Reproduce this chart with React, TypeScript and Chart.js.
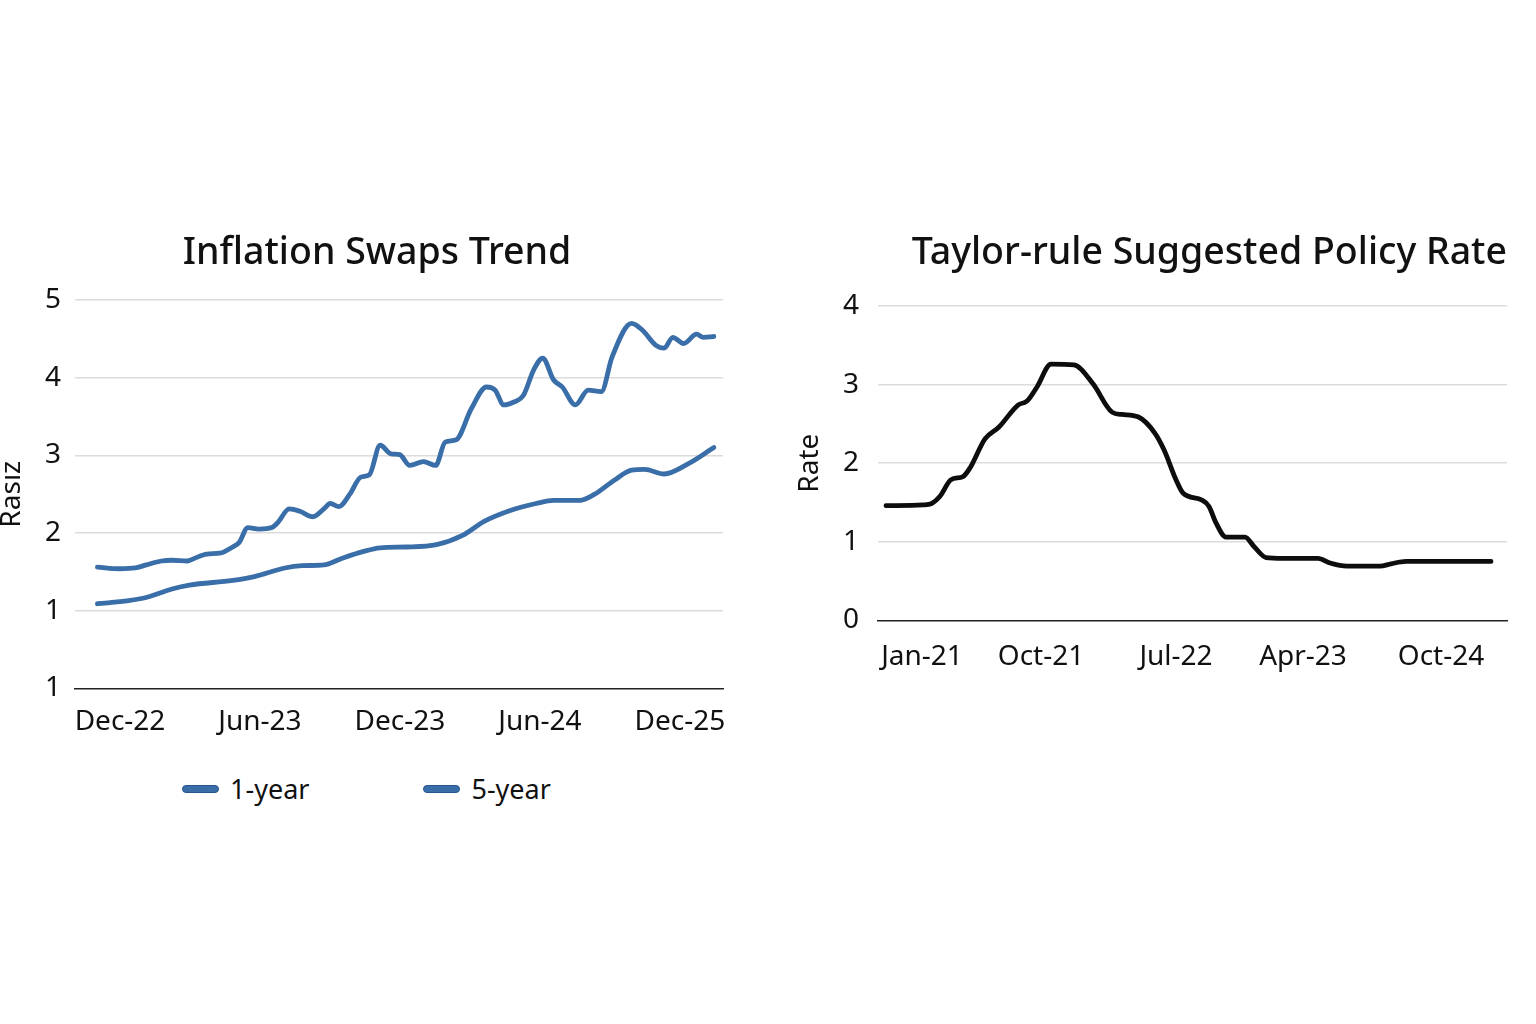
import React, { useEffect, useRef } from "react";
import { Chart, registerables } from "chart.js";

Chart.register(...registerables);

const FONT = '"Noto Sans", "Open Sans", sans-serif';
const INK = "#111111";
const GRID = "#dcdcdc";
const BLUE = "#3a6ea9";

// ---------- Left chart: Inflation Swaps Trend (x = months from Dec-22) ----------
const swapTitle = "Inflation Swaps Trend";
const swapYTitle = "Rasız";
const swapSeriesNames = ["1-year", "5-year"];
const swapTickMonths = [0, 6, 12, 18, 24];
const swapTickLabels = ["Dec-22", "Jun-23", "Dec-23", "Jun-24", "Dec-25"];
const swapYTickLabels = ["1", "1", "2", "3", "4", "5"];

const oneYearMonths = [
  -0.97, 0, 0.65, 1.12, 1.77, 2.23, 2.88, 3.16, 3.72, 4.28, 4.83, 5.11, 5.48, 5.95,
  6.51, 6.78, 7.25, 7.71, 8.27, 8.74, 9.01, 9.39, 9.85, 10.32, 10.69, 11.15, 11.62,
  11.99, 12.42, 13.01, 13.53, 13.94, 14.41, 15.06, 15.71, 16.08, 16.45, 16.91, 17.29,
  17.75, 18.12, 18.59, 18.96, 19.52, 20.07, 20.63, 21.1, 21.93, 22.4, 22.96, 23.33,
  23.7, 24.16, 24.72, 25.0, 25.46,
];
const oneYearValues = [
  1.56, 1.54, 1.55, 1.59, 1.64, 1.65, 1.64, 1.67, 1.73, 1.74, 1.82, 1.88, 2.07, 2.05,
  2.07, 2.14, 2.31, 2.28, 2.21, 2.31, 2.38, 2.34, 2.5, 2.72, 2.75, 3.13, 3.02, 3.01,
  2.87, 2.92, 2.87, 3.17, 3.2, 3.6, 3.88, 3.84, 3.65, 3.69, 3.77, 4.11, 4.25, 3.97,
  3.88, 3.65, 3.84, 3.82, 4.27, 4.7, 4.61, 4.42, 4.38, 4.52, 4.44, 4.56, 4.52, 4.53,
];
const fiveYearMonths = [
  -0.97, 0.37, 1.12, 2.23, 2.97, 4.83, 5.76, 7.06, 7.81, 8.74, 9.48, 10.41, 11.15,
  12.27, 13.57, 14.68, 15.61, 16.73, 17.84, 18.59, 19.7, 20.35, 21.19, 21.93, 22.49,
  23.33, 24.35, 25.46,
];
const fiveYearValues = [
  1.09, 1.13, 1.17, 1.28, 1.33, 1.39, 1.44, 1.55, 1.58, 1.59, 1.67, 1.76, 1.81, 1.82,
  1.85, 1.97, 2.15, 2.29, 2.38, 2.42, 2.42, 2.5, 2.68, 2.81, 2.82, 2.76, 2.89, 3.1,
];

// ---------- Right chart: Taylor-rule Suggested Policy Rate (x = period index) ----------
const policyTitle = "Taylor-rule Suggested Policy Rate";
const policyYTitle = "Rate";
const policyTickPeriods = [3.6, 15.5, 29.0, 41.7, 55.5];
const policyTickLabels = ["Jan-21", "Oct-21", "Jul-22", "Apr-23", "Oct-24"];
const policyPeriods = [
  0, 3.7, 4.6, 5.4, 6.5, 7.7, 8.4, 9.9, 11.3, 13.2, 14.1, 15.1, 16.5, 18.8, 20.7, 22.6,
  23.6, 25.2, 26.9, 27.8, 29.0, 29.7, 31.6, 32.3, 33.0, 34.0, 35.9, 36.8, 38.0, 39.7,
  43.2, 44.4, 46.1, 49.4, 50.5, 52.0, 55.8, 60.5,
];
const policyRate = [
  1.46, 1.47, 1.49, 1.58, 1.79, 1.83, 1.94, 2.31, 2.46, 2.74, 2.79, 2.97, 3.26, 3.25,
  3.01, 2.65, 2.62, 2.59, 2.38, 2.17, 1.79, 1.62, 1.53, 1.45, 1.24, 1.06, 1.06, 0.94,
  0.8, 0.79, 0.79, 0.73, 0.69, 0.69, 0.72, 0.75, 0.75, 0.75,
];

const zip = (xs: number[], ys: number[]) => xs.map((x, i) => ({ x, y: ys[i] }));

function gridColor(ctx: any) {
  return ctx.tick && ctx.tick.value === 0 ? "rgba(0,0,0,0)" : GRID;
}

function SwapsChart() {
  const ref = useRef<HTMLCanvasElement | null>(null);
  useEffect(() => {
    if (!ref.current) return;
    const chart = new Chart(ref.current, {
      type: "line",
      data: {
        datasets: [
          {
            label: swapSeriesNames[0],
            data: zip(oneYearMonths, oneYearValues),
            borderColor: BLUE,
            borderWidth: 4.8,
            pointRadius: 0,
            cubicInterpolationMode: "monotone",
            borderCapStyle: "round",
            borderJoinStyle: "round",
          },
          {
            label: swapSeriesNames[1],
            data: zip(fiveYearMonths, fiveYearValues),
            borderColor: BLUE,
            borderWidth: 4.8,
            pointRadius: 0,
            cubicInterpolationMode: "monotone",
            borderCapStyle: "round",
            borderJoinStyle: "round",
          },
        ],
      },
      options: {
        animation: false,
        responsive: true,
        maintainAspectRatio: false,
        layout: { padding: { right: 0, left: 0, top: 0, bottom: 0 } },
        plugins: {
          legend: { display: false },
          tooltip: { enabled: false },
          title: {
            display: true,
            text: swapTitle,
            color: INK,
            font: { family: FONT, size: 37.5, weight: "500" },
            padding: { top: 21, bottom: 24 },
          },
        },
        scales: {
          x: {
            type: "linear",
            min: -1.93,
            max: 25.85,
            afterBuildTicks: (scale: any) => {
              scale.ticks = swapTickMonths.map((v) => ({ value: v }));
            },
            grid: { display: false },
            border: { display: true, color: "#222", width: 1.5 },
            ticks: {
              autoSkip: false,
              maxRotation: 0,
              padding: 9,
              color: INK,
              font: { family: FONT, size: 28 },
              callback: (value: any) => {
                const i = swapTickMonths.indexOf(Number(value));
                return i >= 0 ? swapTickLabels[i] : "";
              },
            },
          },
          y: {
            min: 0,
            max: 5,
            afterFit: (scale: any) => {
              scale.width = 80;
            },
            grid: { color: gridColor, lineWidth: 1.5, drawTicks: false },
            border: { display: false },
            ticks: {
              stepSize: 1,
              padding: 14,
              color: INK,
              font: { family: FONT, size: 28 },
              callback: (value: any) => swapYTickLabels[Math.round(Number(value))],
            },
            title: {
              display: true,
              text: swapYTitle,
              color: INK,
              font: { family: FONT, size: 28 },
              padding: { top: 0, bottom: 0 },
            },
          },
          spacer: {
            type: "linear",
            position: "right",
            display: true,
            afterFit: (scale: any) => {
              scale.width = 36;
            },
            grid: { display: false, drawOnChartArea: false },
            border: { display: false },
            ticks: { display: false },
          },
        },
      },
    } as any);
    return () => chart.destroy();
  }, []);
  return <canvas ref={ref} />;
}

function PolicyChart() {
  const ref = useRef<HTMLCanvasElement | null>(null);
  useEffect(() => {
    if (!ref.current) return;
    const chart = new Chart(ref.current, {
      type: "line",
      data: {
        datasets: [
          {
            label: policyYTitle,
            data: zip(policyPeriods, policyRate),
            borderColor: "#0d0d0d",
            borderWidth: 4.8,
            pointRadius: 0,
            cubicInterpolationMode: "monotone",
            borderCapStyle: "round",
            borderJoinStyle: "round",
          },
        ],
      },
      options: {
        animation: false,
        responsive: true,
        maintainAspectRatio: false,
        layout: { padding: { right: 2, left: 0, top: 0, bottom: 0 } },
        plugins: {
          legend: { display: false },
          tooltip: { enabled: false },
          title: {
            display: true,
            align: "end",
            text: policyTitle,
            color: INK,
            font: { family: FONT, size: 37.5, weight: "500" },
            padding: { top: 21, bottom: 30 },
          },
        },
        scales: {
          x: {
            type: "linear",
            min: -0.8,
            max: 62.1,
            afterBuildTicks: (scale: any) => {
              scale.ticks = policyTickPeriods.map((v) => ({ value: v }));
            },
            grid: { display: false },
            border: { display: true, color: "#222", width: 1.5 },
            ticks: {
              autoSkip: false,
              maxRotation: 0,
              padding: 12,
              color: INK,
              font: { family: FONT, size: 28 },
              callback: (value: any) => {
                const i = policyTickPeriods.indexOf(Number(value));
                return i >= 0 ? policyTickLabels[i] : "";
              },
            },
          },
          y: {
            min: 0,
            max: 4,
            afterFit: (scale: any) => {
              scale.width = 96;
            },
            grid: { color: gridColor, lineWidth: 1.5, drawTicks: false },
            border: { display: false },
            ticks: {
              stepSize: 1,
              padding: 19,
              color: INK,
              font: { family: FONT, size: 28 },
            },
            title: {
              display: true,
              text: policyYTitle,
              color: INK,
              font: { family: FONT, size: 28 },
              padding: { top: 11, bottom: 0 },
            },
          },
        },
      },
    } as any);
    return () => chart.destroy();
  }, []);
  return <canvas ref={ref} />;
}

function LegendItem({ label }: { label: string }) {
  return (
    <div style={{ display: "flex", alignItems: "center" }}>
      <span
        style={{
          display: "inline-block",
          width: 35,
          height: 6,
          borderRadius: 4,
          background: BLUE,
          border: "1px solid #27568f",
          marginRight: 11,
        }}
      />
      <span style={{ fontFamily: FONT, fontSize: 27, color: INK, lineHeight: "34px" }}>{label}</span>
    </div>
  );
}

export default function App() {
  return (
    <div style={{ position: "absolute", left: 0, top: 0, width: 1536, height: 1024, background: "#fff", overflow: "hidden" }}>
      <div style={{ position: "absolute", left: -5, top: 210, width: 764, height: 538 }}>
        <SwapsChart />
      </div>
      <div
        style={{
          position: "absolute",
          left: 182,
          top: 772,
          display: "flex",
          gap: 114,
        }}
      >
        {swapSeriesNames.map((n) => (
          <LegendItem key={n} label={n} />
        ))}
      </div>
      <div style={{ position: "absolute", left: 782, top: 210, width: 727, height: 476 }}>
        <PolicyChart />
      </div>
    </div>
  );
}
